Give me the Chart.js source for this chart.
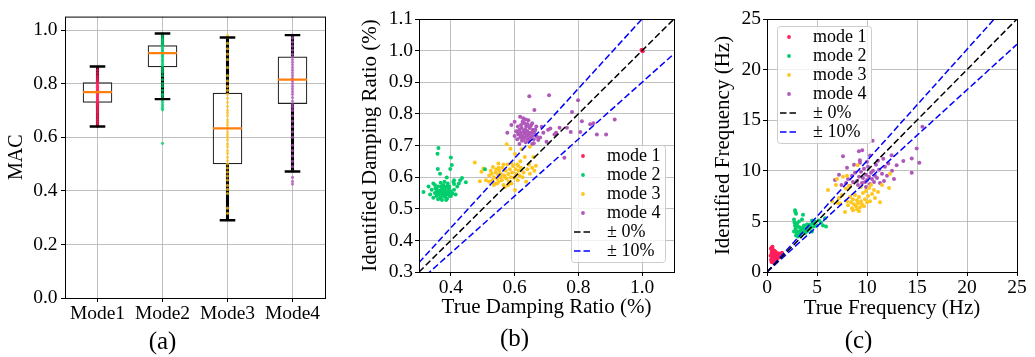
<!DOCTYPE html>
<html>
<head>
<meta charset="utf-8">
<script src="https://cdn.jsdelivr.net/npm/chart.js@4"></script>
<style>
  html, body { margin: 0; padding: 0; background: #fff; overflow: hidden; }
  body { width: 1035px; height: 357px; position: relative; }
  canvas { position: absolute; top: 0; }
</style>
</head>
<body>
<canvas id="chartA" width="370" height="357" style="left:0px"></canvas>
<canvas id="chartB" width="374" height="357" style="left:355px"></canvas>
<canvas id="chartC" width="394" height="357" style="left:700px"></canvas>
<script>
const modes = ['Mode1', 'Mode2', 'Mode3', 'Mode4'];
const modeLabels = ['mode 1', 'mode 2', 'mode 3', 'mode 4'];
const modeColors = ['#ff1f5b', '#00cd6c', '#ffc61e', '#af58ba'];
const modeColorsLight = ['rgba(255,31,91,0.75)', 'rgba(0,205,108,0.75)', 'rgba(255,198,30,0.75)', 'rgba(175,88,186,0.75)'];

// (a) MAC box plot
const macTicks = [0, 0.2, 0.4, 0.6, 0.8, 1.0];
const boxQ1 = [0.729, 0.861, 0.499, 0.724];
const boxQ3 = [0.805, 0.943, 0.766, 0.901];
const boxMedian = [0.768, 0.914, 0.633, 0.815];
const whiskerLow = [0.640, 0.742, 0.290, 0.472];
const whiskerHigh = [0.864, 0.987, 0.972, 0.981];
const macMode1 = [0.640, 0.648, 0.655, 0.662, 0.668, 0.675, 0.681, 0.688, 0.694, 0.700, 0.706, 0.712, 0.718, 0.723, 0.727, 0.731, 0.735, 0.739, 0.743, 0.747, 0.751, 0.755, 0.759, 0.763, 0.767, 0.770, 0.774, 0.778, 0.782, 0.786, 0.790, 0.795, 0.800, 0.804, 0.809, 0.815, 0.822, 0.830, 0.840, 0.850, 0.862];
const macMode2 = [0.577, 0.702, 0.708, 0.715, 0.722, 0.730, 0.738, 0.745, 0.755, 0.762, 0.775, 0.790, 0.800, 0.815, 0.830, 0.842, 0.850, 0.858, 0.866, 0.872, 0.879, 0.885, 0.890, 0.896, 0.902, 0.907, 0.912, 0.916, 0.920, 0.925, 0.930, 0.935, 0.940, 0.945, 0.950, 0.955, 0.960, 0.965, 0.972, 0.980, 0.987];
const macMode3 = [0.316, 0.335, 0.390, 0.405, 0.420, 0.440, 0.455, 0.470, 0.485, 0.500, 0.512, 0.525, 0.540, 0.550, 0.565, 0.575, 0.590, 0.600, 0.610, 0.620, 0.633, 0.645, 0.655, 0.665, 0.680, 0.690, 0.700, 0.715, 0.730, 0.745, 0.760, 0.775, 0.790, 0.810, 0.830, 0.860, 0.890, 0.910, 0.930, 0.950, 0.972, 0.980];
const macMode4 = [0.425, 0.435, 0.450, 0.473, 0.490, 0.510, 0.530, 0.550, 0.570, 0.600, 0.620, 0.640, 0.660, 0.680, 0.700, 0.712, 0.722, 0.735, 0.748, 0.760, 0.770, 0.780, 0.790, 0.800, 0.810, 0.815, 0.820, 0.830, 0.840, 0.850, 0.860, 0.870, 0.880, 0.890, 0.900, 0.910, 0.925, 0.940, 0.955, 0.970, 0.980];

// (b) damping ratio, [true, identified]
const dampTicksX = [0.4, 0.6, 0.8, 1.0];
const dampTicksY = [0.3, 0.4, 0.5, 0.6, 0.7, 0.8, 0.9, 1.0, 1.1];
const dampMode1 = [[1.0, 1.0], [0.998, 1.002], [1.002, 0.998], [1.0, 1.003]];
const dampMode2 = [[0.314,0.553],[0.361,0.692],[0.358,0.674],[0.359,0.626],[0.403,0.638],[0.398,0.626],[0.387,0.599],[0.408,0.585],[0.429,0.590],[0.447,0.584],[0.366,0.611],[0.345,0.580],[0.400,0.662],[0.410,0.578],[0.420,0.570],[0.335,0.545],[0.340,0.560],[0.345,0.535],[0.350,0.550],[0.352,0.565],[0.355,0.540],[0.358,0.555],[0.360,0.570],[0.362,0.545],[0.365,0.558],[0.367,0.535],[0.370,0.550],[0.372,0.562],[0.374,0.542],[0.376,0.575],[0.378,0.553],[0.380,0.538],[0.382,0.560],[0.384,0.548],[0.386,0.570],[0.388,0.532],[0.390,0.555],[0.392,0.545],[0.394,0.565],[0.396,0.540],[0.400,0.555],[0.405,0.548],[0.410,0.560],[0.415,0.545],[0.350,0.575],[0.368,0.582],[0.380,0.585],[0.390,0.580],[0.372,0.528],[0.385,0.528],[0.360,0.530],[0.355,0.560],[0.375,0.565],[0.395,0.552],[0.365,0.548],[0.383,0.542],[0.370,0.570],[0.378,0.566],[0.355,0.548],[0.410,0.590],[0.425,0.580],[0.435,0.597],[0.330,0.570],[0.395,0.570],[0.400,0.540],[0.507,0.625]];
const dampMode3 = [[0.475,0.646],[0.502,0.627],[0.496,0.617],[0.491,0.587],[0.510,0.590],[0.520,0.605],[0.525,0.620],[0.528,0.611],[0.530,0.590],[0.532,0.632],[0.535,0.600],[0.538,0.580],[0.540,0.615],[0.542,0.625],[0.545,0.595],[0.548,0.608],[0.549,0.643],[0.550,0.585],[0.552,0.620],[0.555,0.600],[0.557,0.610],[0.560,0.590],[0.562,0.630],[0.565,0.575],[0.567,0.605],[0.570,0.569],[0.572,0.620],[0.575,0.704],[0.575,0.595],[0.578,0.640],[0.580,0.610],[0.582,0.585],[0.585,0.625],[0.587,0.690],[0.588,0.600],[0.590,0.580],[0.592,0.615],[0.595,0.635],[0.598,0.598],[0.601,0.673],[0.601,0.559],[0.603,0.625],[0.605,0.610],[0.608,0.640],[0.610,0.590],[0.611,0.636],[0.613,0.620],[0.615,0.605],[0.618,0.650],[0.620,0.630],[0.622,0.688],[0.625,0.600],[0.628,0.615],[0.632,0.664],[0.636,0.585],[0.640,0.625],[0.645,0.640],[0.648,0.696],[0.648,0.611],[0.655,0.630],[0.659,0.664],[0.662,0.620],[0.667,0.636],[0.520,0.585],[0.535,0.575],[0.550,0.630],[0.565,0.640],[0.580,0.575],[0.545,0.580],[0.590,0.645],[0.600,0.600],[0.570,0.600]];
const dampMode4 = [[0.646,0.856],[0.708,0.859],[0.799,0.843],[0.662,0.812],[0.780,0.806],[0.914,0.782],[0.811,0.777],[0.712,0.754],[0.685,0.759],[0.741,0.756],[0.764,0.756],[0.776,0.743],[0.806,0.743],[0.858,0.735],[0.887,0.735],[0.847,0.770],[0.837,0.767],[0.725,0.735],[0.730,0.740],[0.756,0.661],[0.700,0.712],[0.674,0.717],[0.705,0.750],[0.690,0.740],[0.680,0.725],[0.660,0.707],[0.665,0.750],[0.655,0.705],[0.577,0.740],[0.590,0.765],[0.600,0.775],[0.600,0.730],[0.605,0.745],[0.608,0.720],[0.610,0.760],[0.612,0.735],[0.615,0.750],[0.617,0.791],[0.618,0.725],[0.620,0.740],[0.622,0.755],[0.623,0.715],[0.625,0.730],[0.627,0.786],[0.628,0.745],[0.630,0.770],[0.630,0.725],[0.632,0.738],[0.634,0.750],[0.635,0.710],[0.636,0.760],[0.638,0.730],[0.640,0.745],[0.641,0.720],[0.643,0.780],[0.645,0.735],[0.647,0.755],[0.648,0.725],[0.650,0.740],[0.652,0.765],[0.655,0.730],[0.657,0.750],[0.660,0.720],[0.662,0.745],[0.665,0.735],[0.668,0.760],[0.670,0.728],[0.620,0.765],[0.625,0.775],[0.635,0.782],[0.640,0.768],[0.615,0.705],[0.610,0.740],[0.630,0.748],[0.645,0.715],[0.655,0.770],[0.620,0.732],[0.628,0.720],[0.638,0.742],[0.648,0.760],[0.658,0.742]];
const dampRefX = [0.3, 1.1];
const dampRefSame = [0.3, 1.1];
const dampRefUpper = [0.33, 1.21];
const dampRefLower = [0.27, 0.99];

// (c) frequency, [true, identified]
const freqTicks = [0, 5, 10, 15, 20, 25];
const freqMode1 = [[0.4,2.3],[0.45,2.4],[0.5,2.1],[0.45,1.9],[0.5,1.7],[0.55,1.5],[0.5,1.3],[0.55,1.1],[0.6,0.95],[0.6,2.2],[0.65,2.0],[0.7,1.8],[0.65,1.6],[0.7,1.4],[0.7,1.2],[0.75,1.0],[0.8,1.6],[0.85,1.8],[0.9,1.5],[0.9,1.3],[0.95,1.1],[1.0,1.7],[1.05,1.5],[1.1,1.85],[1.2,1.7],[1.3,1.8],[1.4,1.75],[1.5,1.9],[1.25,1.55],[0.35,1.6],[0.4,1.2],[0.45,1.0],[0.55,2.5],[0.6,1.75],[0.75,2.1],[0.8,1.3],[1.0,1.35],[1.15,1.4],[0.85,2.0],[0.6,1.4]];
const freqMode2 = [[2.8,6.1],[2.85,5.9],[2.9,5.75],[3.6,5.65],[2.7,5.2],[2.75,4.9],[2.8,4.6],[2.85,4.3],[2.9,4.1],[2.95,3.9],[3.0,3.7],[3.1,4.5],[3.2,4.0],[3.3,3.8],[3.4,4.2],[3.5,3.9],[3.6,4.4],[3.7,4.1],[3.8,3.85],[3.9,4.3],[4.0,4.0],[4.1,4.5],[4.2,4.2],[4.3,4.7],[4.4,4.4],[4.5,4.0],[4.6,4.8],[4.7,4.5],[4.8,5.0],[5.0,4.6],[5.2,5.1],[5.4,4.9],[5.6,4.6],[5.8,5.3],[5.9,4.5],[3.0,4.8],[3.2,5.0],[3.5,5.2],[2.9,3.6],[3.3,4.4],[3.7,4.6],[4.0,4.7],[4.5,5.1],[2.7,4.0],[3.1,3.5],[3.4,3.6]];
const freqMode3 = [[6.1,8.1],[6.5,7.0],[6.9,8.6],[7.1,6.8],[7.3,6.76],[7.6,9.4],[7.5,7.6],[7.8,5.94],[7.9,8.25],[8.0,7.0],[8.1,6.6],[8.3,7.4],[8.4,6.9],[8.5,6.3],[8.6,7.2],[8.7,6.7],[8.8,7.6],[8.9,6.5],[9.0,7.1],[9.05,10.55],[9.1,6.8],[9.2,7.4],[9.3,6.4],[9.4,7.0],[9.5,6.7],[9.6,7.8],[9.7,6.5],[9.8,7.2],[9.9,8.0],[10.0,6.9],[10.1,7.5],[10.2,8.3],[10.3,7.0],[10.5,7.7],[10.7,8.1],[11.1,7.9],[11.3,6.9],[11.5,8.6],[12.2,8.3],[12.3,9.7],[7.0,9.2],[8.2,8.5],[8.6,6.1],[9.0,6.2],[9.4,8.4],[10.4,8.6],[8.0,9.5],[7.2,7.3],[10.8,7.3],[9.2,6.0]];
const freqMode4 = [[6.8,9.1],[7.45,8.6],[7.6,11.44],[7.9,8.8],[8.1,9.2],[8.3,8.5],[8.5,9.5],[8.6,8.9],[8.8,9.8],[9.0,9.0],[9.1,8.6],[9.2,9.4],[9.19,11.94],[9.29,11.05],[9.4,9.9],[9.5,8.8],[9.52,12.04],[9.6,9.3],[9.7,10.2],[9.8,8.9],[9.9,9.6],[10.0,9.1],[10.1,10.4],[10.2,9.4],[10.3,8.7],[10.4,9.8],[10.5,9.2],[10.56,12.96],[10.6,10.0],[10.7,8.9],[10.8,9.5],[10.9,10.6],[11.0,9.3],[11.2,10.1],[11.3,8.8],[11.5,9.7],[11.63,11.2],[11.8,10.4],[12.0,9.5],[12.13,10.72],[12.46,11.54],[12.5,10.0],[12.96,10.55],[13.63,10.98],[14.47,11.21],[14.47,9.8],[14.97,12.2],[15.24,10.8],[15.54,14.35],[8.0,10.3],[8.7,10.6],[9.3,10.8],[10.0,10.9],[11.1,11.0],[7.2,9.6],[12.7,9.2],[10.3,11.5],[9.9,8.4],[11.7,9.0]];
const freqRefX = [0, 25];
const freqRefSame = [0, 25];
const freqRefUpper = [0, 27.5];
const freqRefLower = [0, 22.5];

Chart.defaults.font.family = '"Liberation Serif", "Times New Roman", serif';
Chart.defaults.color = '#000';

const gridStyle = () => ({color: '#b0b0b0', lineWidth: 0.8, tickLength: 4, tickColor: '#000', tickWidth: 1});
const tickFont = {size: 19.5};
const titleFont = {size: 21};

const framePlugin = {
  id: 'frame',
  afterDatasetsDraw(chart) {
    const {ctx, chartArea: a} = chart;
    ctx.save();
    ctx.strokeStyle = '#000';
    ctx.lineWidth = 1;
    ctx.strokeRect(a.left + 0.5, a.top + 0.5, a.width, a.height);
    ctx.restore();
  }
};

// matplotlib-style legend box inside the axes
function boxLegend(place) {
  return {
    id: 'boxLegend',
    afterDraw(chart) {
      const {ctx, chartArea: a} = chart;
      const w = 94, h = 117;
      const x0 = place.right !== undefined ? a.right - place.right - w : a.left + place.left;
      const y0 = place.bottom !== undefined ? a.bottom - place.bottom - h : a.top + place.top;
      ctx.save();
      ctx.beginPath();
      ctx.roundRect(x0 + 0.5, y0 + 0.5, w, h, 3);
      ctx.fillStyle = 'rgba(255,255,255,0.8)';
      ctx.fill();
      ctx.strokeStyle = '#cccccc';
      ctx.lineWidth = 1;
      ctx.stroke();
      ctx.font = '18px "Liberation Serif"';
      ctx.textBaseline = 'middle';
      const items = chart.data.datasets.filter(d => d.label);
      items.forEach((d, i) => {
        const y = y0 + 11 + i * 19;
        if (d.type === 'line') {
          ctx.strokeStyle = d.borderColor;
          ctx.lineWidth = d.borderWidth;
          ctx.setLineDash(d.borderDash);
          ctx.beginPath();
          ctx.moveTo(x0 + 3, y);
          ctx.lineTo(x0 + 21, y);
          ctx.stroke();
          ctx.setLineDash([]);
        } else {
          ctx.fillStyle = d.backgroundColor;
          ctx.beginPath();
          ctx.arc(x0 + 12, y, 1.9, 0, Math.PI * 2);
          ctx.fill();
        }
        ctx.fillStyle = '#000';
        ctx.fillText(d.label, x0 + 36, y);
      });
      ctx.restore();
    }
  };
}

// ---------- (a) ----------
const macData = [macMode1, macMode2, macMode3, macMode4];
const dotSets = macData.map((vals, i) => ({
  type: 'line',
  showLine: false,
  data: vals.map(v => ({x: modes[i], y: v})),
  pointRadius: 1.6,
  pointBorderWidth: 0,
  pointBackgroundColor: modeColorsLight[i],
  order: 3
}));

new Chart(document.getElementById('chartA'), {
  type: 'bar',
  data: {
    labels: modes,
    datasets: [
      {
        data: boxQ1.map((q, i) => [q, boxQ3[i]]),
        backgroundColor: 'rgba(0,0,0,0)',
        borderColor: '#222',
        borderWidth: 1.2,
        borderSkipped: false,
        grouped: false,
        barPercentage: 0.455,
        categoryPercentage: 1,
        order: 6
      },
      {
        data: whiskerLow.map((w, i) => [w, boxQ1[i]]),
        backgroundColor: '#000',
        borderWidth: 0,
        grouped: false,
        barThickness: 2.4,
        order: 5
      },
      {
        data: boxQ3.map((q, i) => [q, whiskerHigh[i]]),
        backgroundColor: '#000',
        borderWidth: 0,
        grouped: false,
        barThickness: 2.4,
        order: 5
      },
      ...dotSets,
      {
        type: 'line',
        showLine: false,
        data: whiskerLow.map((v, i) => ({x: modes[i], y: v})).concat(whiskerHigh.map((v, i) => ({x: modes[i], y: v}))),
        pointStyle: 'line',
        pointRadius: 7.8,
        pointBorderWidth: 2.4,
        pointBorderColor: '#000',
        order: 2
      },
      {
        type: 'line',
        showLine: false,
        data: boxMedian.map((v, i) => ({x: modes[i], y: v})),
        pointStyle: 'line',
        pointRadius: 14.4,
        pointBorderWidth: 2.2,
        pointBorderColor: '#ff7f0e',
        order: 1
      }
    ]
  },
  options: {
    responsive: false,
    animation: false,
    layout: {padding: {left: 0, top: 10, right: 45, bottom: 0}},
    plugins: {
      legend: {display: false},
      tooltip: {enabled: false},
      title: {display: true, text: '(a)', position: 'bottom', font: {size: 25, weight: 'normal'}, color: '#000', padding: {top: 0, bottom: 0}}
    },
    scales: {
      x: {
        type: 'category',
        offset: true,
        grid: Object.assign(gridStyle(), {offset: false}),
        border: {display: false},
        ticks: {font: tickFont, color: '#000', padding: 0, maxRotation: 0, autoSkip: false},
        afterFit: s => { s.height = 29; }
      },
      y: {
        min: 0,
        max: 1.05,
        afterBuildTicks: s => { s.ticks = macTicks.map(v => ({value: v})); },
        ticks: {font: tickFont, color: '#000', padding: 3.5, callback: v => v.toFixed(1)},
        title: {display: true, text: 'MAC', font: {size: 20}, color: '#000', padding: {top: 5, bottom: 0}},
        grid: gridStyle(),
        border: {display: false},
        afterFit: s => { s.width = 65; }
      }
    }
  },
  plugins: [framePlugin]
});

// ---------- scatter helpers ----------
function modeScatter(points, i) {
  return {
    label: modeLabels[i],
    data: points.map(p => ({x: p[0], y: p[1]})),
    backgroundColor: modeColors[i],
    pointRadius: 2,
    borderWidth: 0,
    order: 2
  };
}
function refLine(xs, ys, color, label) {
  return {
    type: 'line',
    label: label,
    data: xs.map((x, k) => ({x: x, y: ys[k]})),
    borderColor: color,
    borderWidth: 1.5,
    borderDash: [6.5, 3],
    pointRadius: 0,
    fill: false,
    order: 1
  };
}

// ---------- (b) ----------
new Chart(document.getElementById('chartB'), {
  type: 'scatter',
  data: {
    datasets: [
      modeScatter(dampMode1, 0),
      modeScatter(dampMode2, 1),
      modeScatter(dampMode3, 2),
      modeScatter(dampMode4, 3),
      refLine(dampRefX, dampRefSame, '#000', '± 0%'),
      refLine(dampRefX, dampRefUpper, '#0000ff', '± 10%'),
      refLine(dampRefX, dampRefLower, '#0000ff', '')
    ]
  },
  options: {
    responsive: false,
    animation: false,
    layout: {padding: {left: 0, top: 19, right: 55, bottom: 0}},
    plugins: {
      legend: {display: false},
      tooltip: {enabled: false},
      title: {display: true, text: '(b)', position: 'bottom', font: {size: 25, weight: 'normal'}, color: '#000', padding: {top: 0, bottom: 3}}
    },
    scales: {
      x: {
        type: 'linear',
        min: 0.3,
        max: 1.1,
        afterBuildTicks: s => { s.ticks = dampTicksX.map(v => ({value: v})); },
        ticks: {font: tickFont, color: '#000', padding: 0, maxRotation: 0, callback: v => v.toFixed(1)},
        title: {display: true, text: 'True Damping Ratio (%)', font: titleFont, color: '#000', padding: {top: 0, bottom: 3.5}},
        grid: gridStyle(),
        border: {display: false},
        afterFit: s => { s.height = 52; }
      },
      y: {
        type: 'linear',
        min: 0.3,
        max: 1.1,
        afterBuildTicks: s => { s.ticks = dampTicksY.map(v => ({value: v})); },
        ticks: {font: tickFont, color: '#000', padding: 2, callback: v => v.toFixed(1)},
        title: {display: true, text: 'Identified Damping Ratio (%)', font: titleFont, color: '#000', padding: {top: 2.4, bottom: 0}},
        grid: gridStyle(),
        border: {display: false},
        afterFit: s => { s.width = 64; }
      }
    }
  },
  plugins: [framePlugin, boxLegend({right: 9, bottom: 10})]
});

// ---------- (c) ----------
new Chart(document.getElementById('chartC'), {
  type: 'scatter',
  data: {
    datasets: [
      modeScatter(freqMode1, 0),
      modeScatter(freqMode2, 1),
      modeScatter(freqMode3, 2),
      modeScatter(freqMode4, 3),
      refLine(freqRefX, freqRefSame, '#000', '± 0%'),
      refLine(freqRefX, freqRefUpper, '#0000ff', '± 10%'),
      refLine(freqRefX, freqRefLower, '#0000ff', '')
    ]
  },
  options: {
    responsive: false,
    animation: false,
    layout: {padding: {left: 0, top: 19, right: 77, bottom: 0}},
    plugins: {
      legend: {display: false},
      tooltip: {enabled: false},
      title: {display: true, text: '(c)', position: 'bottom', font: {size: 25, weight: 'normal'}, color: '#000', padding: {top: 0, bottom: 1}}
    },
    scales: {
      x: {
        type: 'linear',
        min: 0,
        max: 25,
        afterBuildTicks: s => { s.ticks = freqTicks.map(v => ({value: v})); },
        ticks: {font: tickFont, color: '#000', padding: 0, maxRotation: 0},
        title: {display: true, text: 'True Frequency (Hz)', font: titleFont, color: '#000', padding: {top: 0, bottom: 4.9}},
        grid: gridStyle(),
        border: {display: false},
        afterFit: s => { s.height = 54; }
      },
      y: {
        type: 'linear',
        min: 0,
        max: 25,
        afterBuildTicks: s => { s.ticks = freqTicks.map(v => ({value: v})); },
        ticks: {font: tickFont, color: '#000', padding: 2},
        title: {display: true, text: 'Identified Frequency (Hz)', font: titleFont, color: '#000', padding: {top: 10.4, bottom: 0}},
        grid: gridStyle(),
        border: {display: false},
        afterFit: s => { s.width = 67; }
      }
    }
  },
  plugins: [framePlugin, boxLegend({left: 10, top: 7})]
});
</script>
</body>
</html>
